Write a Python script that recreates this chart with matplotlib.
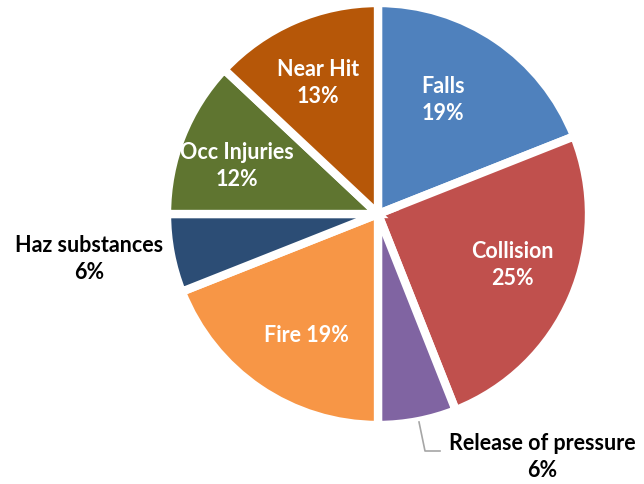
import numpy as np
import matplotlib.pyplot as plt

plt.rcParams["font.family"] = ["Lato", "DejaVu Sans"]

# data
labels = ["Falls", "Collision", "Release of pressure", "Fire", "Haz substances",
          "Occ Injuries", "Near Hit"]
shares = [19, 25, 6, 19, 6, 12, 13]
colors = ["#4F81BD", "#C0504D", "#8064A2", "#F79646", "#2C4D75", "#5F7530", "#B65708"]

H = 484  # figure height in px, used to flip y

fig = plt.figure(figsize=(6.44, 4.84), dpi=100)
ax = fig.add_axes([0, 0, 1, 1])

cx, cy, r = 378, H - 214, 211
wedges, _ = ax.pie(shares, colors=colors, startangle=90, counterclock=False,
                   center=(cx, cy), radius=r,
                   wedgeprops=dict(edgecolor="white", linewidth=6),
                   frame=True)
ax.set_xlim(0, 644)
ax.set_ylim(0, H)
ax.set_aspect("equal")
ax.axis("off")

# label texts, centres (pixels from top-left) and colours
label_text = ["Falls\n19%", "Collision\n25%", "Release of pressure\n6%", "Fire 19%",
              "Haz substances\n6%", "Occ Injuries\n12%", "Near Hit\n13%"]
label_pos = [(443, 100), (512, 265), (542, 457), (306, 336), (89, 259), (237, 166), (318, 83)]
label_col = ["white", "white", "black", "white", "black", "white", "white"]

for txt, (x, y), c in zip(label_text, label_pos, label_col):
    ax.text(x, H - y, txt, ha="center", va="center", color=c, fontsize=15.5,
            fontweight="bold", linespacing=1.35)

# leader line for release of pressure
ax.plot([419, 425, 440], [H - 422, H - 451, H - 451], color="#A6A6A6", lw=1.2)

fig.savefig("out.png", dpi=100)
